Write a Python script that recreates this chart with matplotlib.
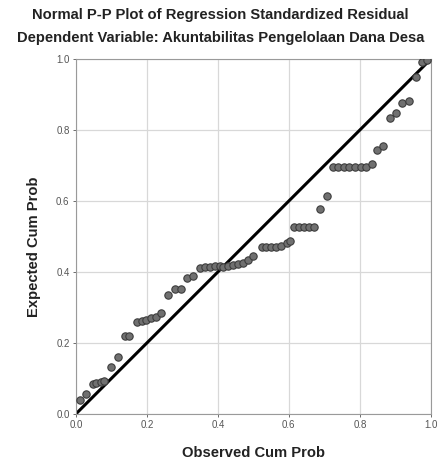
import matplotlib
matplotlib.use("Agg")
import matplotlib.pyplot as plt

plt.rcParams["font.family"] = ["Liberation Sans", "DejaVu Sans"]

# observed vs expected cumulative probabilities
observed = [
    0.011, 0.028, 0.047, 0.058, 0.070, 0.080, 0.100, 0.119, 0.138, 0.150,
    0.173, 0.186, 0.199, 0.213, 0.227, 0.241, 0.260, 0.279, 0.295, 0.314,
    0.329, 0.349, 0.363, 0.377, 0.392, 0.405, 0.415, 0.429, 0.443, 0.457,
    0.471, 0.485, 0.498, 0.523, 0.537, 0.551, 0.565, 0.579, 0.594, 0.603,
    0.615, 0.629, 0.643, 0.657, 0.671, 0.687, 0.708, 0.723, 0.739, 0.755,
    0.770, 0.786, 0.802, 0.817, 0.833, 0.849, 0.866, 0.885, 0.901, 0.920,
    0.939, 0.958, 0.974, 0.988,
]
expected = [
    0.039, 0.056, 0.085, 0.087, 0.090, 0.094, 0.133, 0.161, 0.220, 0.220,
    0.259, 0.261, 0.265, 0.270, 0.274, 0.285, 0.335, 0.351, 0.351, 0.382,
    0.389, 0.410, 0.413, 0.415, 0.417, 0.417, 0.415, 0.417, 0.419, 0.423,
    0.426, 0.434, 0.445, 0.470, 0.470, 0.470, 0.471, 0.473, 0.483, 0.488,
    0.526, 0.526, 0.526, 0.526, 0.526, 0.577, 0.614, 0.695, 0.695, 0.695,
    0.695, 0.695, 0.695, 0.697, 0.703, 0.744, 0.755, 0.833, 0.849, 0.875,
    0.883, 0.948, 0.992, 0.997,
]
ticks = [0.0, 0.2, 0.4, 0.6, 0.8, 1.0]
tick_labels = ["0.0", "0.2", "0.4", "0.6", "0.8", "1.0"]

fig = plt.figure(figsize=(4.41, 4.61), dpi=100)
ax = fig.add_axes([0.172, 0.102, 0.805, 0.770])

ax.plot([0, 1], [0, 1], color="black", lw=2.2, zorder=2)
ax.scatter(observed, expected, s=28, facecolor="#707070", edgecolor="#3c3c3c",
           linewidths=0.8, zorder=3)

ax.set_xlim(0, 1)
ax.set_ylim(0, 1)
ax.set_xticks(ticks)
ax.set_yticks(ticks)
ax.set_xticklabels(tick_labels)
ax.set_yticklabels(tick_labels)
ax.tick_params(labelsize=7, colors="#555555", length=2.5, width=0.6, pad=2)
ax.grid(True, color="#d8d8d8", lw=0.9)
ax.set_axisbelow(True)
for spine in ax.spines.values():
    spine.set_color("#9a9a9a")
    spine.set_linewidth(0.8)

ax.set_xlabel("Observed Cum Prob", fontsize=10.6, fontweight="bold",
              color="#222222", va="center")
ax.set_ylabel("Expected Cum Prob", fontsize=10.6, fontweight="bold",
              color="#222222", va="center")
ax.xaxis.set_label_coords(0.5, -0.110)
ax.yaxis.set_label_coords(-0.118, 0.47)

fig.text(0.5, 0.968, "Normal P-P Plot of Regression Standardized Residual",
         ha="center", va="center", fontsize=10.6, fontweight="bold", color="#222222")
fig.text(0.5, 0.917, "Dependent Variable: Akuntabilitas Pengelolaan Dana Desa",
         ha="center", va="center", fontsize=10.6, fontweight="bold", color="#222222")

fig.savefig("out.png", dpi=100)
